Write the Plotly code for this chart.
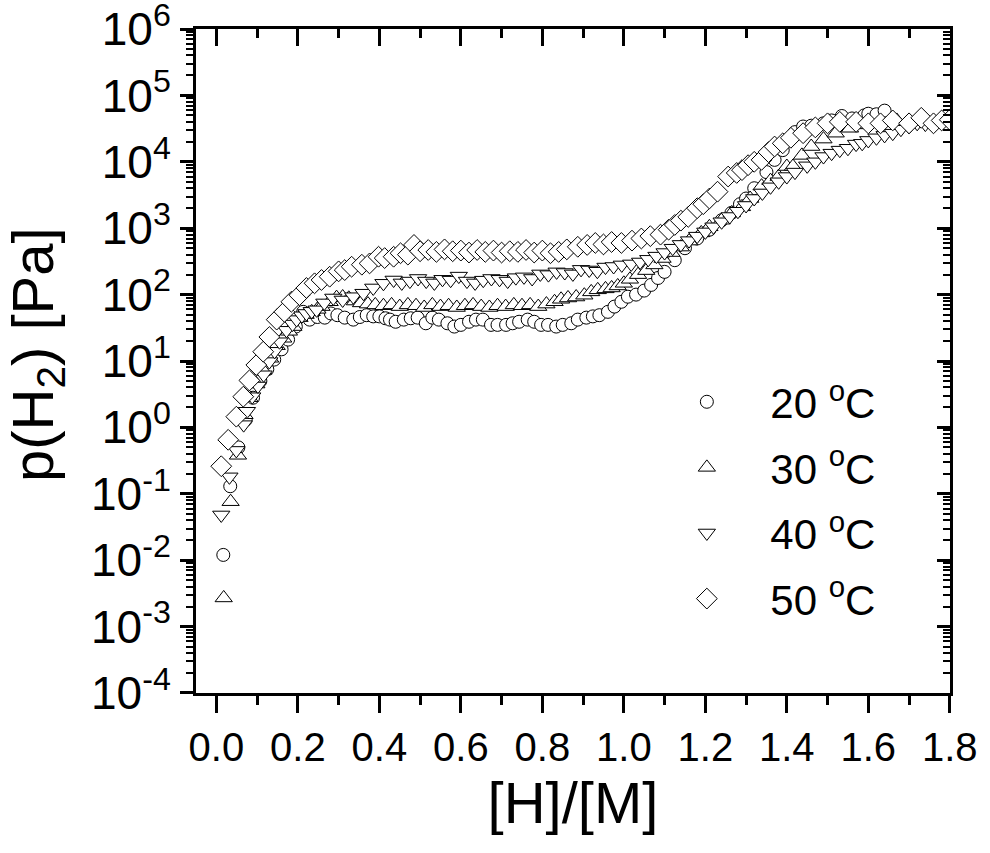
import plotly.graph_objects as go

# ---------------- data ----------------
x20 = [0.017, 0.034, 0.054, 0.072, 0.090, 0.108, 0.125, 0.142, 0.160, 0.176, 0.195, 0.213, 0.229, 0.248,
       0.266, 0.281, 0.297, 0.315, 0.336, 0.352, 0.369, 0.385, 0.400, 0.415, 0.426, 0.44, 0.46, 0.477,
       0.494, 0.514, 0.53, 0.546, 0.567, 0.584, 0.60, 0.62, 0.637, 0.654, 0.674, 0.69, 0.711, 0.727,
       0.743, 0.764, 0.78, 0.797, 0.814, 0.834, 0.85, 0.871, 0.887, 0.908, 0.924, 0.94, 0.961, 0.977,
       0.994, 1.01, 1.03, 1.05, 1.067, 1.084, 1.10, 1.125, 1.15, 1.18, 1.21, 1.24, 1.264, 1.285, 1.30,
       1.32, 1.35, 1.37, 1.39, 1.42, 1.44, 1.46, 1.49, 1.51, 1.535, 1.56, 1.59, 1.60, 1.62, 1.64]
p20 = [0.012, 0.13, 0.5, 1.3, 2.8, 5, 7.5, 10.5, 15, 21, 33, 55, 42, 46,
       45, 52, 49, 45, 42, 46, 49, 47, 47, 44, 42, 39, 42, 44,
       45, 37, 45, 42, 37, 33, 35, 39, 42, 42, 35, 35, 35, 37,
       39, 42, 39, 35, 35, 33, 35, 37, 42, 45, 47, 49, 55, 66,
       78, 93, 100, 115, 140, 178, 220, 330, 500, 700, 950, 1320, 1700, 2300, 2800,
       4000, 7000, 10700, 15000, 28000, 34000, 35000, 38000, 42000, 49000, 45000, 50000, 53000, 52000, 59000]

x30 = [0.018, 0.035, 0.053, 0.069, 0.081, 0.098, 0.115, 0.132, 0.148, 0.164, 0.178, 0.189, 0.204, 0.219,
       0.234, 0.248, 0.258, 0.278, 0.295, 0.31, 0.325, 0.34, 0.355, 0.372, 0.39, 0.41, 0.43, 0.45,
       0.47, 0.49, 0.51, 0.53, 0.55, 0.57, 0.59, 0.61, 0.63, 0.65, 0.67, 0.69, 0.71, 0.73,
       0.75, 0.77, 0.79, 0.81, 0.83, 0.846, 0.863, 0.883, 0.903, 0.92, 0.936, 0.955, 0.97, 0.985,
       1.0, 1.015, 1.035, 1.055, 1.075, 1.095, 1.117, 1.14, 1.16, 1.19, 1.21, 1.24, 1.265, 1.29,
       1.31, 1.338, 1.36, 1.38, 1.40, 1.415, 1.437, 1.46, 1.49, 1.52, 1.555, 1.59, 1.63, 1.67]
p30 = [0.0027, 0.076, 0.38, 1.55, 2.8, 4.5, 7.2, 11, 17, 22, 28, 33, 45, 50,
       55, 60, 66, 78, 90, 92, 88, 80, 75, 72, 70, 68, 70, 66,
       70, 68, 64, 70, 66, 68, 64, 68, 70, 66, 64, 68, 66, 70,
       68, 70, 66, 72, 78, 85, 89, 92, 98, 110, 118, 122, 126, 135,
       148, 170, 200, 230, 280, 350, 430, 520, 640, 850, 1050, 1320, 1700, 2100,
       2800, 4300, 5200, 6000, 8500, 8500, 12500, 17000, 22000, 27000, 32000, 36000, 40000, 42000]

x40 = [0.012, 0.032, 0.049, 0.067, 0.075, 0.088, 0.102, 0.116, 0.13, 0.143, 0.155, 0.172, 0.187, 0.197,
       0.21, 0.221, 0.234, 0.246, 0.265, 0.287, 0.31, 0.336, 0.361, 0.385, 0.41, 0.435, 0.455, 0.475,
       0.495, 0.515, 0.535, 0.555, 0.575, 0.595, 0.615, 0.635, 0.655, 0.675, 0.695, 0.715, 0.735, 0.755,
       0.775, 0.795, 0.815, 0.835, 0.855, 0.875, 0.895, 0.915, 0.935, 0.955, 0.975, 0.995, 1.018, 1.04,
       1.06, 1.08, 1.10, 1.12, 1.14, 1.16, 1.18, 1.20, 1.22, 1.24, 1.26, 1.28, 1.30, 1.32,
       1.34, 1.36, 1.38, 1.40, 1.42, 1.45, 1.47, 1.49, 1.51, 1.53, 1.55, 1.57, 1.585, 1.60,
       1.62, 1.64, 1.66, 1.68, 1.70, 1.72, 1.74, 1.76, 1.78, 1.80]
p40 = [0.048, 0.18, 0.45, 1.1, 1.75, 2.9, 4.2, 6.2, 9.8, 14, 19.5, 29, 36, 42,
       48, 52, 56, 59, 75, 89, 83, 93, 105, 126, 148, 166, 150, 160,
       175, 160, 150, 170, 165, 190, 160, 150, 165, 175, 170, 160, 180, 185,
       175, 205, 200, 220, 215, 205, 240, 235, 225, 260, 265, 280, 290, 310,
       340, 380, 430, 500, 570, 650, 760, 880, 1050, 1250, 1500, 1800, 2200, 2800,
       3400, 4200, 5000, 6000, 7000, 8700, 10000, 12000, 13500, 15000, 16000, 18500, 19000, 21000,
       23000, 25000, 27000, 31000, 34000, 38000, 37000, 40000, 42000, 44000]

x50 = [0.012, 0.029, 0.049, 0.066, 0.081, 0.098, 0.115, 0.13, 0.148, 0.167, 0.184, 0.204, 0.221, 0.241,
       0.258, 0.278, 0.30, 0.315, 0.332, 0.357, 0.376, 0.398, 0.413, 0.435, 0.452, 0.47, 0.485, 0.50,
       0.52, 0.54, 0.56, 0.58, 0.60, 0.62, 0.64, 0.66, 0.68, 0.70, 0.72, 0.74, 0.76, 0.78,
       0.80, 0.82, 0.84, 0.86, 0.887, 0.91, 0.93, 0.95, 0.97, 0.994, 1.02, 1.043, 1.065, 1.09,
       1.11, 1.125, 1.14, 1.158, 1.18, 1.195, 1.21, 1.23, 1.256, 1.277, 1.29, 1.305, 1.32, 1.338,
       1.355, 1.37, 1.39, 1.41, 1.44, 1.47, 1.50, 1.53, 1.57, 1.60, 1.63, 1.66, 1.70, 1.73,
       1.76, 1.78, 1.80]
p50 = [0.26, 0.65, 1.45, 2.9, 5.1, 8.7, 13.8, 23, 42, 55, 78, 98, 126, 148,
       166, 186, 224, 234, 263, 282, 295, 372, 355, 372, 420, 400, 560, 450,
       470, 440, 480, 450, 460, 430, 470, 440, 460, 430, 450, 440, 470, 430,
       460, 420, 440, 480, 525, 560, 600, 570, 620, 600, 650, 700, 760, 800,
       950, 1120, 1300, 1480, 2000, 2300, 2800, 3550, 6000, 6800, 7500, 8900, 10000, 10700,
       14000, 17000, 19000, 23000, 27000, 33000, 38000, 40000, 40000, 38000, 38000, 42000, 38000, 46000,
       38000, 42000, 43000]

series_names = ["20 <sup>o</sup>C", "30 <sup>o</sup>C", "40 <sup>o</sup>C", "50 <sup>o</sup>C"]
y_tickvals = [1e-4, 1e-3, 1e-2, 1e-1, 1, 10, 100, 1e3, 1e4, 1e5, 1e6]
y_ticktext = ["10<sup>-4</sup>", "10<sup>-3</sup>", "10<sup>-2</sup>", "10<sup>-1</sup>", "10<sup>0</sup>",
              "10<sup>1</sup>", "10<sup>2</sup>", "10<sup>3</sup>", "10<sup>4</sup>", "10<sup>5</sup>",
              "10<sup>6</sup>"]
x_tickvals = [0.0, 0.2, 0.4, 0.6, 0.8, 1.0, 1.2, 1.4, 1.6, 1.8]
x_ticktext = ["0.0", "0.2", "0.4", "0.6", "0.8", "1.0", "1.2", "1.4", "1.6", "1.8"]

# ---------------- figure ----------------
FONT = "Liberation Sans, Arial, sans-serif"
symbols = ["circle", "triangle-up", "triangle-down", "diamond"]
sizes = [13, 15, 15, 16]
pad = "\u00a0\u00a0\u00a0\u2009"
YR = [-4.0005, 6.0005]
XR = [-0.05, 1.8005]

fig = go.Figure()
data = [(x20, p20), (x30, p30), (x40, p40), (x50, p50)]
for i, (xs, ps) in enumerate(data):
    # the last series lives on the mirrored (top/right) axes so those axes get drawn
    ax = dict(xaxis="x2", yaxis="y2") if i == 3 else {}
    fig.add_trace(go.Scatter(
        x=xs, y=ps, mode="markers", name=pad + series_names[i], legendgroup=str(i),
        marker=dict(symbol=symbols[i], size=sizes[i], color="white",
                    line=dict(color="black", width=1)), **ax
    ))

axis_common = dict(showgrid=False, zeroline=False, showline=True, linecolor="black", linewidth=3,
                   tickcolor="black", tickwidth=3, automargin=False)

fig.update_layout(
    width=990, height=853,
    margin=dict(l=196, r=40, t=29, b=160),
    plot_bgcolor="white", paper_bgcolor="white",
    font=dict(family=FONT, color="black"),
    showlegend=True,
    legend=dict(x=0.651, y=0.4895, xanchor="left", yanchor="top", bgcolor="rgba(0,0,0,0)",
                font=dict(size=42, family=FONT), tracegroupgap=8, itemsizing="trace"),
    xaxis=dict(range=XR, tickvals=x_tickvals, ticktext=x_ticktext, ticks="outside",
               ticklen=17, tickfont=dict(size=40), ticklabeloverflow="allow",
               minor=dict(ticks="outside", ticklen=9, tickwidth=3, dtick=0.1, tick0=0, tickcolor="black"),
               title=dict(text="[H]/[M]", font=dict(size=58)), **axis_common),
    yaxis=dict(type="log", range=YR, tickvals=y_tickvals, ticktext=y_ticktext, ticks="outside",
               ticklen=13, tickfont=dict(size=46), ticklabeloverflow="allow",
               minor=dict(ticks="outside", ticklen=7, tickwidth=2, dtick="D1", tickcolor="black"),
               **axis_common),
    xaxis2=dict(range=XR, overlaying="x", side="top", anchor="y", tickvals=x_tickvals,
                showticklabels=False, ticks="inside", ticklen=17,
                minor=dict(ticks="inside", ticklen=9, tickwidth=3, dtick=0.1, tick0=0, tickcolor="black"),
                **axis_common),
    yaxis2=dict(type="log", range=YR, overlaying="y", side="right", anchor="x", tickvals=y_tickvals,
                showticklabels=False, ticks="inside", ticklen=13,
                minor=dict(ticks="inside", ticklen=7, tickwidth=2, dtick="D1", tickcolor="black"),
                **axis_common),
    annotations=[dict(text="p(H<sub>2</sub>) [Pa]", xref="paper", yref="paper", x=-0.210, y=0.51,
                      xanchor="center", yanchor="middle", textangle=-90, showarrow=False,
                      font=dict(size=58, family=FONT))],
)

fig.write_html("out.html", config={"displayModeBar": False},
               post_script="document.body.style.margin='0';")
